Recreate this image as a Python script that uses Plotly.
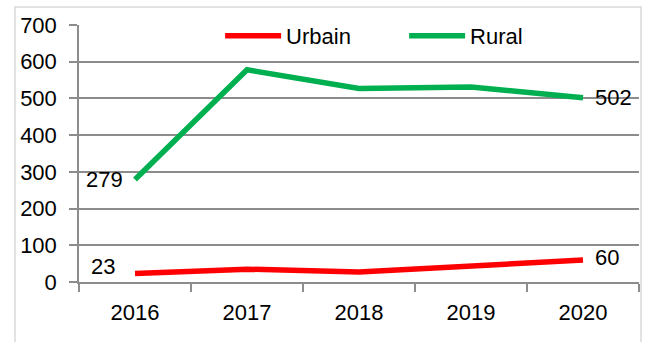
import plotly.graph_objects as go

years = ["2016", "2017", "2018", "2019", "2020"]
urbain = [23, 35, 27, 44, 60]
rural = [279, 578, 527, 531, 502]
y_ticks = [0, 100, 200, 300, 400, 500, 600, 700]

FONT = "Liberation Sans, Arial, sans-serif"
GRID = "#8c8c8c"


def txt(size):
    return dict(family=FONT, size=size, color="#000000")


fig = go.Figure()
fig.add_trace(go.Scatter(x=years, y=urbain, name="Urbain", mode="lines",
                         line=dict(color="#ff0000", width=5.5)))
fig.add_trace(go.Scatter(x=years, y=rural, name="Rural", mode="lines",
                         line=dict(color="#00b050", width=5.5)))

# value labels at both ends of each series (x given as category index)
last = len(years) - 1
labels = [
    (0, rural[0], "right", -10, 0),
    (0, urbain[0], "right", -18, 7),
    (last, rural[last], "left", 10, 0),
    (last, urbain[last], "left", 10, 2),
]
for x, y, anchor, dx, dy in labels:
    fig.add_annotation(x=x, y=y, text=str(y), showarrow=False,
                       xanchor=anchor, yanchor="middle", xshift=dx, yshift=dy,
                       font=txt(22))

# outer chart frame
fig.add_shape(type="rect", xref="paper", yref="paper",
              x0=(15 - 79) / 560, x1=(641 - 79) / 560,
              y0=(282 - 345) / 257, y1=(282 - 7) / 257,
              line=dict(color="#d9d9d9", width=1.5), fillcolor="rgba(0,0,0,0)",
              layer="below")

fig.update_layout(
    width=649, height=342,
    margin=dict(l=79, r=10, t=25, b=60),
    paper_bgcolor="#ffffff", plot_bgcolor="#ffffff",
    font=txt(22),
    showlegend=True,
    legend=dict(orientation="h", x=0.252, y=0.957, xanchor="left", yanchor="middle",
                bgcolor="rgba(0,0,0,0)", font=txt(22),
                itemwidth=56, entrywidth=113, entrywidthmode="pixels",
                traceorder="normal"),
    xaxis=dict(type="category", range=[-0.5, last + 0.5], showline=True,
               linecolor=GRID, linewidth=1.5,
               ticks="outside", tickson="boundaries", ticklen=8, tickcolor=GRID,
               tickwidth=1.5, showgrid=False, tickfont=txt(22), tickangle=0,
               ticklabelstandoff=10),
    yaxis=dict(range=[0, 700], tickvals=y_ticks, showline=True, linecolor=GRID,
               linewidth=1.5, ticks="outside", ticklen=8, tickcolor=GRID,
               tickwidth=1.5, showgrid=True, gridcolor=GRID, gridwidth=1.5,
               zeroline=False, tickfont=txt(22), ticklabelstandoff=8),
)

fig.write_html("out.html")
